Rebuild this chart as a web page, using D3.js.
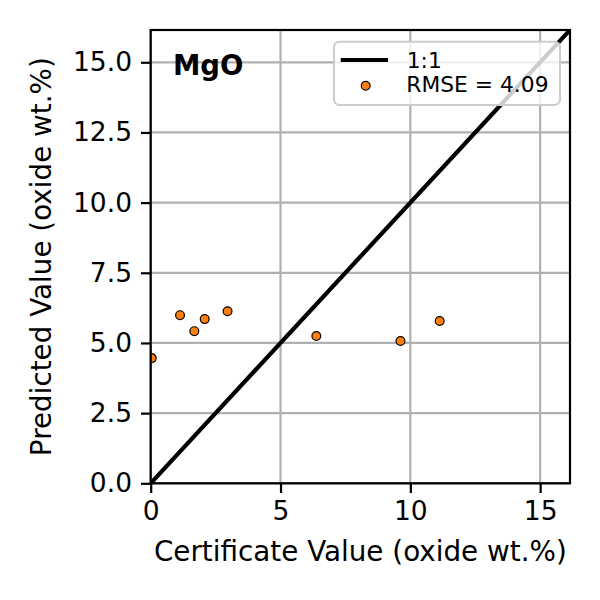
<!DOCTYPE html>
<html>
<head>
<meta charset="utf-8">
<script src="https://cdn.jsdelivr.net/npm/d3@7"></script>
<style>
  body { margin: 0; background: #fff; }
  text { font-family: "DejaVu Sans", sans-serif; fill: #000; }
</style>
</head>
<body>
<div class="chart"></div>
<script>
// chart values
const certificate = [0.04, 1.13, 1.68, 2.08, 2.96, 6.38, 9.62, 11.13];
const predicted   = [4.46, 5.99, 5.42, 5.85, 6.13, 5.25, 5.07, 5.78];
const xTicks = [0, 5, 10, 15];
const yTicks = [0, 2.5, 5, 7.5, 10, 12.5, 15];
const oxide = "MgO";
const rmseLabel = "RMSE = 4.09";
const axisMax = 16.15;

const Margin = { top: 30, right: 30, bottom: 116.7, left: 150.7 };
const Width = 600 - Margin.left - Margin.right;
const Height = 600 - Margin.top - Margin.bottom;

const svg = d3.select(".chart").append("svg")
    .attr("width", 600)
    .attr("height", 600);

const g = svg.append("g")
    .attr("transform", "translate(" + Margin.left + "," + Margin.top + ")");

// scales
const x = d3.scaleLinear().domain([0, axisMax]).range([0, Width]);
const y = d3.scaleLinear().domain([0, axisMax]).range([Height, 0]);

g.append("clipPath").attr("id", "plotclip")
  .append("rect").attr("width", Width).attr("height", Height);

// grid
g.selectAll(".gx").data(xTicks).enter().append("line")
    .attr("x1", d => x(d)).attr("x2", d => x(d))
    .attr("y1", 0).attr("y2", Height)
    .attr("stroke", "#b0b0b0").attr("stroke-width", 2.2);
g.selectAll(".gy").data(yTicks).enter().append("line")
    .attr("y1", d => y(d)).attr("y2", d => y(d))
    .attr("x1", 0).attr("x2", Width)
    .attr("stroke", "#b0b0b0").attr("stroke-width", 2.2);

const plot = g.append("g").attr("clip-path", "url(#plotclip)");

// 1:1 line
plot.append("path")
    .datum([0, axisMax])
    .attr("d", d3.line().x(d => x(d)).y(d => y(d)))
    .attr("stroke", "#000").attr("stroke-width", 4.2).attr("fill", "none");

// points
plot.selectAll("circle").data(certificate).enter().append("circle")
    .attr("cx", d => x(d))
    .attr("cy", (d, i) => y(predicted[i]))
    .attr("r", 4.4)
    .attr("fill", "#ff7f0e")
    .attr("stroke", "#000").attr("stroke-width", 1.2);

// axes
const xAxis = g.append("g")
    .attr("transform", "translate(0," + Height + ")")
    .call(d3.axisBottom(x).tickValues(xTicks).tickFormat(d3.format("d")).tickSize(9.7).tickPadding(8));
const yAxis = g.append("g")
    .call(d3.axisLeft(y).tickValues(yTicks).tickFormat(d3.format(".1f")).tickSize(9.7).tickPadding(9));

[xAxis, yAxis].forEach(a => {
  a.select(".domain").remove();
  a.selectAll("line").attr("stroke", "#000").attr("stroke-width", 2.2);
  a.selectAll("text").style("font-size", "26.5px").style("font-family", "DejaVu Sans");
});

// spines
g.append("rect")
    .attr("width", Width).attr("height", Height)
    .attr("fill", "none").attr("stroke", "#000").attr("stroke-width", 2.2);

// oxide label
g.append("text")
    .attr("x", 173 - Margin.left).attr("y", 75 - Margin.top)
    .style("font-size", "27.5px").style("font-weight", "bold")
    .text(oxide);

// legend
const legend = svg.append("g");
legend.append("rect")
    .attr("x", 334).attr("y", 41.7).attr("width", 226).attr("height", 63.3)
    .attr("rx", 5.5)
    .attr("fill", "#fff").attr("fill-opacity", 0.8)
    .attr("stroke", "#cccccc").attr("stroke-width", 2);
legend.append("line")
    .attr("x1", 340.7).attr("x2", 388).attr("y1", 60).attr("y2", 60)
    .attr("stroke", "#000").attr("stroke-width", 4.2);
legend.append("text").attr("x", 406.7).attr("y", 68.3)
    .style("font-size", "21.8px").text("1:1");
legend.append("circle")
    .attr("cx", 365.7).attr("cy", 85.7).attr("r", 4.4)
    .attr("fill", "#ff7f0e").attr("stroke", "#000").attr("stroke-width", 1.2);
legend.append("text").attr("x", 406.3).attr("y", 91.5)
    .style("font-size", "21.8px").text(rmseLabel);

// axis titles
svg.append("text")
    .attr("x", Margin.left + Width / 2).attr("y", 561)
    .attr("text-anchor", "middle")
    .style("font-size", "27.8px")
    .text("Certificate Value (oxide wt.%)");
svg.append("text")
    .attr("transform", "translate(51," + (Margin.top + Height / 2) + ") rotate(-90)")
    .attr("text-anchor", "middle")
    .style("font-size", "27.8px")
    .text("Predicted Value (oxide wt.%)");
</script>
</body>
</html>
